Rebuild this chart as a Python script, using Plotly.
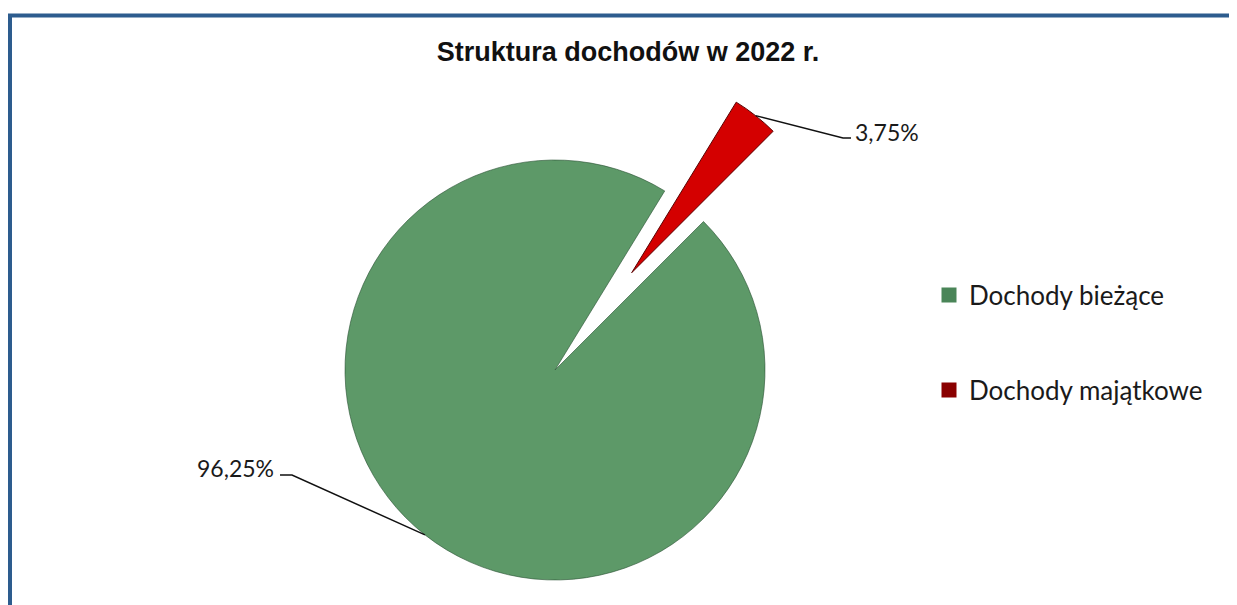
import numpy as np
import plotly.graph_objects as go

# ---- data ----
categories = ["Dochody bieżące", "Dochody majątkowe"]
shares = [96.25, 3.75]
label_texts = ["96,25%", "3,75%"]
colors = ["#5d9968", "#d40000"]
legend_colors = ["#4a8558", "#8a0000"]

# ---- geometry / layout (pixels, page coordinates) ----
W, H = 1237, 605
OFF = 8                          # page body margin
CX, CY, R = 555, 370, 210        # main pie
R_RED = 200                      # exploded slice radius
PULL = 0.59                      # explosion distance as fraction of R
ROT = 45                         # start angle of first slice (clockwise from 12 o'clock)

def px(x):
    return (x - OFF) / W

def py(y):
    return 1 - (y - OFF) / H

total = sum(shares)
starts, ends = [], []
a = ROT
for v in shares:
    starts.append(a)
    a += 360 * v / total
    ends.append(a)
mids = [(s + e) / 2 for s, e in zip(starts, ends)]

def polar(cx, cy, r, ang):
    t = np.radians(ang)
    return cx + r * np.sin(t), cy - r * np.cos(t)

ECX, ECY = polar(CX, CY, PULL * R, mids[1])

fig = go.Figure()

fig.add_trace(go.Pie(
    labels=categories, values=shares, sort=False, direction="clockwise",
    rotation=ROT, textinfo="none", showlegend=False,
    marker=dict(colors=[colors[0], "rgba(0,0,0,0)"],
                line=dict(color=["rgba(40,80,50,0.6)", "rgba(0,0,0,0)"], width=[1, 0])),
    domain=dict(x=[px(CX - R), px(CX + R)], y=[py(CY + R), py(CY - R)]),
))

fig.add_trace(go.Pie(
    labels=categories, values=shares, sort=False, direction="clockwise",
    rotation=ROT, textinfo="none", showlegend=False,
    marker=dict(colors=["rgba(0,0,0,0)", colors[1]],
                line=dict(color=["rgba(0,0,0,0)", "#5a0000"], width=[0, 1])),
    domain=dict(x=[px(ECX - R_RED), px(ECX + R_RED)], y=[py(ECY + R_RED), py(ECY - R_RED)]),
))

legend_pos = [(929, 295), (929, 390)]
for i, (name, col) in enumerate(zip(categories, legend_colors)):
    lg = "legend" if i == 0 else "legend2"
    fig.add_trace(go.Scatter(
        x=[None], y=[None], mode="markers", name=name,
        marker=dict(symbol="square", size=15, color=col),
        legend=lg, showlegend=True,
    ))

legend_common = dict(font=dict(family="Lato", size=26, color="#1a1a1a"),
                     bgcolor="rgba(0,0,0,0)", xanchor="left", yanchor="middle",
                     itemwidth=30)
fig.update_layout(
    legend=dict(x=px(legend_pos[0][0]), y=py(legend_pos[0][1]), **legend_common),
    legend2=dict(x=px(legend_pos[1][0]), y=py(legend_pos[1][1]), **legend_common),
)

red_anchor = polar(ECX, ECY, R_RED, mids[1])
green_anchor = polar(CX, CY, R, mids[0])
lines = [
    [red_anchor, (843, 138), (851, 138)],
    [green_anchor, (292, 475), (280, 475)],
]
shapes = []
for pts in lines:
    path = "M " + " L ".join(f"{px(x):.5f},{py(y):.5f}" for x, y in pts)
    shapes.append(dict(type="path", path=path, xref="paper", yref="paper",
                       line=dict(color="#111111", width=1.5)))
# frame: only top and left edges are visible in the picture
frame = [(10, 15.5, 10, 640), (8, 15.5, 1300, 15.5)]
for x0, y0, x1, y1 in frame:
    shapes.append(dict(type="line", xref="paper", yref="paper",
                       x0=px(x0), y0=py(y0), x1=px(x1), y1=py(y1),
                       line=dict(color="#2d5c8e", width=4)))

annotations = [
    dict(text=label_texts[1], x=px(853), y=py(132), xref="paper", yref="paper",
         xanchor="left", yanchor="middle", showarrow=False,
         font=dict(family="Lato", size=23, color="#1a1a1a")),
    dict(text=label_texts[0], x=px(276), y=py(468), xref="paper", yref="paper",
         xanchor="right", yanchor="middle", showarrow=False,
         font=dict(family="Lato", size=23, color="#1a1a1a")),
]

fig.update_layout(
    width=W, height=H,
    margin=dict(l=0, r=0, t=0, b=0),
    paper_bgcolor="white", plot_bgcolor="white",
    title=dict(text="<b>Struktura dochodów w 2022 r.</b>", x=px(628), y=py(52),
               xanchor="center", yanchor="middle",
               font=dict(family="Liberation Sans", size=27, color="#111111")),
    xaxis=dict(visible=False), yaxis=dict(visible=False),
    shapes=shapes, annotations=annotations,
)

fig.write_html("out.html")
